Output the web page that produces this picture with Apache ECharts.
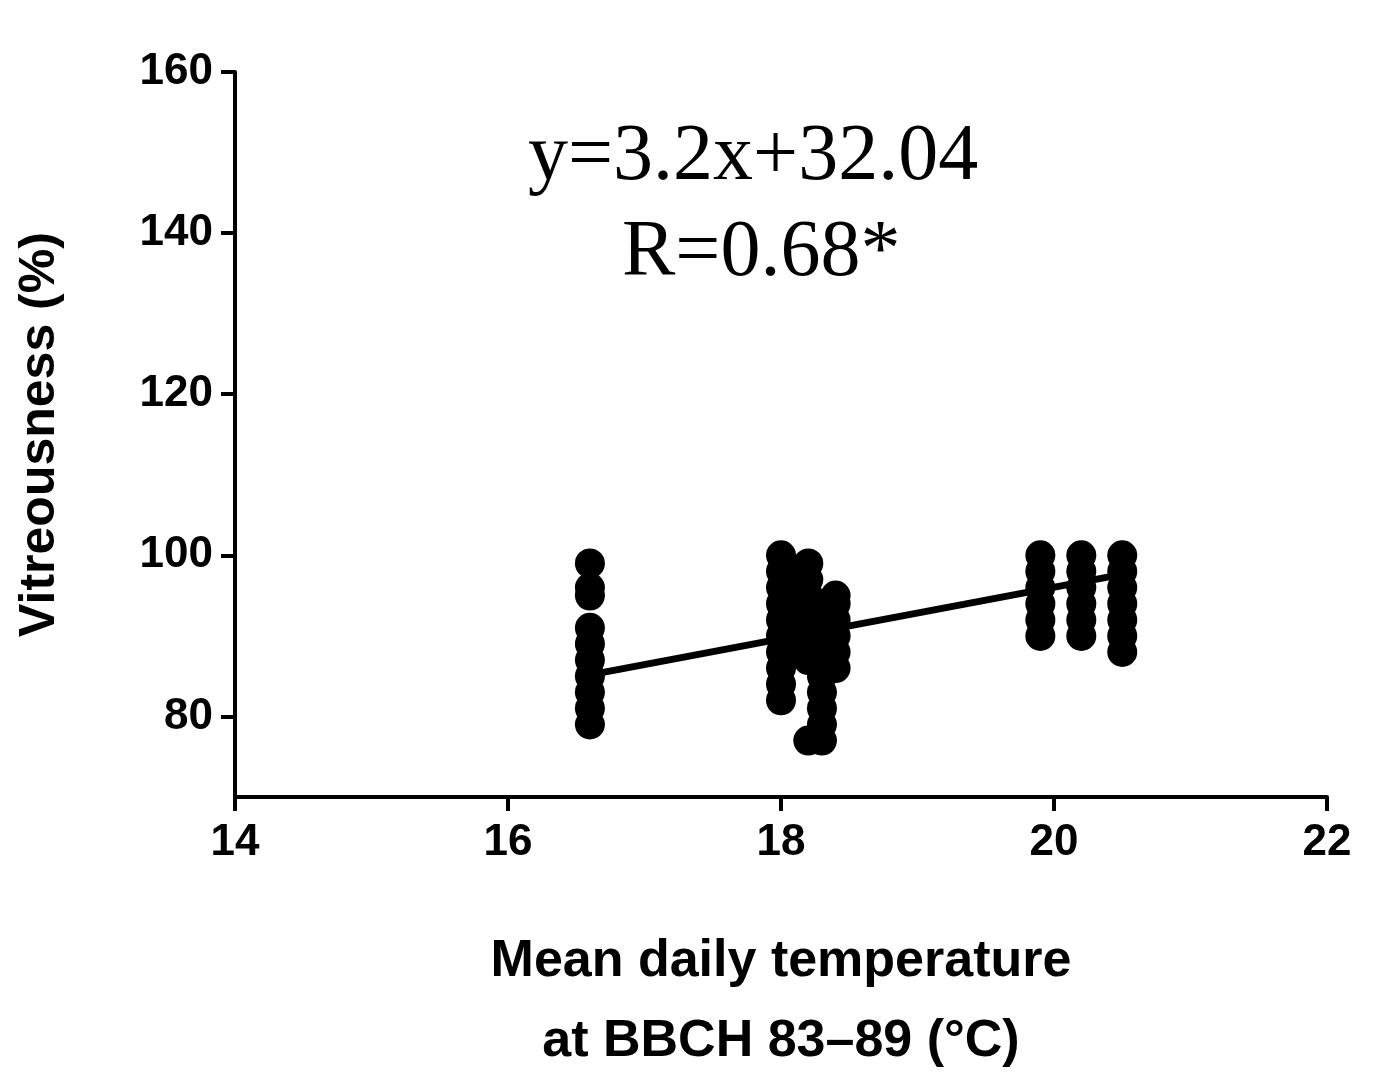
<!DOCTYPE html><html><head><meta charset="utf-8"><script src="https://cdn.jsdelivr.net/npm/echarts@6/dist/echarts.min.js"></script></head><body style="margin:0"><div id="c" style="width:1389px;height:1087px"></div><script>
const xGroups=[16.6,18.0,18.2,18.3,18.4,19.9,20.2,20.5];
const yGroups=[
 [79,81,83,85,87,89,91,95,96,99],
 [82,84,86,88,90,92,94,96,98,100],
 [77,87,89,91,93,95,97,99],
 [77,79,81,83,85,87,89,91,93],
 [86,88,90,92,94,95],
 [90,92,94,96,98,100],
 [90,92,94,96,98,100],
 [88,90,92,94,96,98,100]];
const xTicks=[14,16,18,20,22];
const yTicks=[80,100,120,140,160];
const slope=3.2, intercept=32.04, fitRange=[16.6,20.5];
const points=[];xGroups.forEach((x,i)=>yGroups[i].forEach(y=>points.push([x,y])));
const fit=fitRange.map(x=>[x,slope*x+intercept]);
const lab={fontFamily:'Liberation Sans, Arial',fontWeight:'bold',fontSize:44,color:'#000'};
const ax={lineStyle:{color:'#000',width:4}};
const chart=echarts.init(document.getElementById('c'));
chart.setOption({
 animation:false,
 grid:{left:235,right:62,top:72,bottom:287},
 xAxis:{type:'value',min:14,max:22,axisLine:ax,splitLine:{show:false},
  axisTick:{customValues:xTicks,length:14,lineStyle:{color:'#000',width:4}},
  axisLabel:Object.assign({customValues:xTicks,margin:24},lab),
  name:'Mean daily temperature\nat BBCH 83\u201389 (\u00b0C)',nameLocation:'middle',nameGap:125,
  nameTextStyle:Object.assign({lineHeight:80},lab,{fontSize:52})},
 yAxis:{type:'value',min:70,max:160,axisLine:ax,splitLine:{show:false},
  axisTick:{customValues:yTicks,length:14,lineStyle:{color:'#000',width:4}},
  axisLabel:Object.assign({customValues:yTicks,margin:22},lab),
  name:'Vitreousness (%)',nameLocation:'middle',nameGap:170,nameTextStyle:Object.assign({},lab,{fontSize:50})},
 series:[
  {type:'scatter',data:points,symbolSize:30,itemStyle:{color:'#000',opacity:1}},
  {type:'line',data:fit,symbol:'none',lineStyle:{color:'#000',width:7}}],
 graphic:[
  {type:'text',left:528,top:118,style:{text:'y=3.2x+32.04',font:'80px "Liberation Serif", serif',fill:'#000'}},
  {type:'text',left:622,top:214,style:{text:'R=0.68*',font:'80px "Liberation Serif", serif',fill:'#000'}}]
});
</script></body></html>
